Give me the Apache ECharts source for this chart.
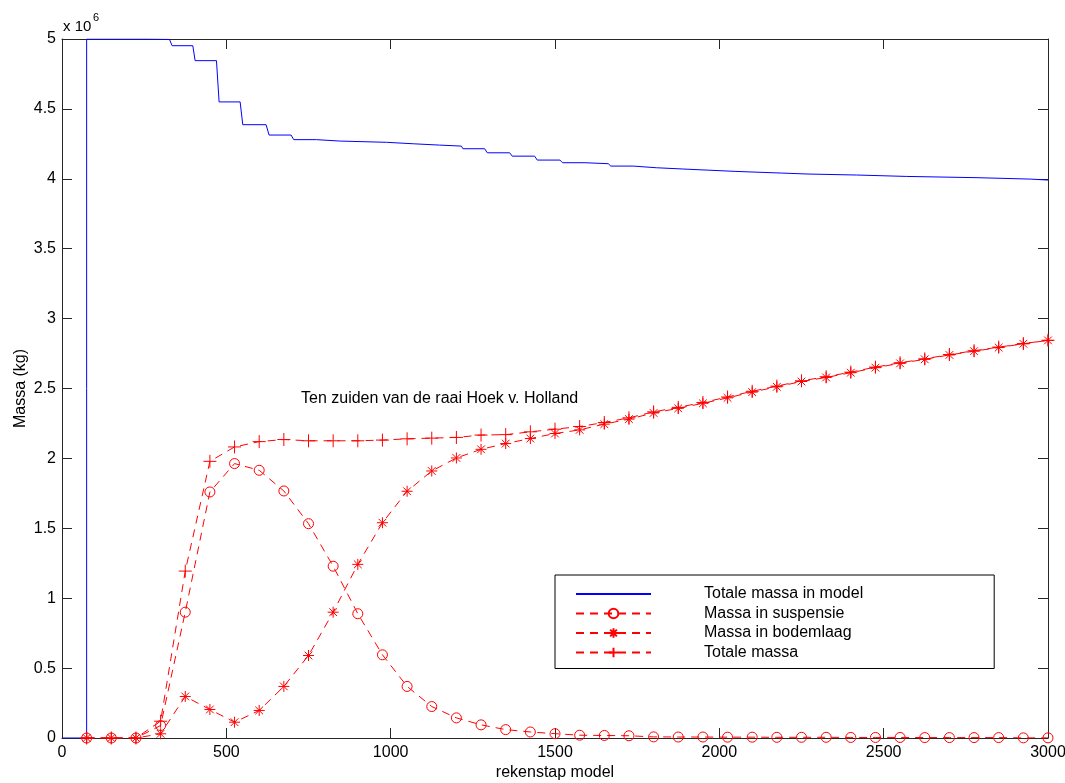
<!DOCTYPE html>
<html>
<head>
<meta charset="utf-8">
<script src="https://cdn.jsdelivr.net/npm/echarts@6/dist/echarts.min.js"></script>
<style>
  html, body { margin: 0; padding: 0; background: #fff; }
  #chart { width: 1065px; height: 783px; }
</style>
</head>
<body>
<div id="chart"></div>
<script>
// rekenstappen waarop de massa's zijn uitgezet
var stappen = [75, 150, 225, 300, 375, 450, 525, 600, 675, 750,
  825, 900, 975, 1050, 1125, 1200, 1275, 1350, 1425, 1500,
  1575, 1650, 1725, 1800, 1875, 1950, 2025, 2100, 2175, 2250,
  2325, 2400, 2475, 2550, 2625, 2700, 2775, 2850, 2925, 3000];

// massa's in 10^6 kg
var suspensie = [0, 0, 0, 0.089, 0.9, 1.76, 1.963, 1.915, 1.767, 1.533,
  1.229, 0.889, 0.595, 0.369, 0.225, 0.144, 0.094, 0.06, 0.043, 0.031,
  0.02, 0.018, 0.016, 0.008, 0.007, 0.007, 0.006, 0.006, 0.005, 0.005,
  0.005, 0.004, 0.004, 0.004, 0.003, 0.003, 0.003, 0.003, 0.001, 0.001];

var bodemlaag = [0, 0, 0, 0.03, 0.297, 0.204, 0.113, 0.197, 0.369, 0.59,
  0.9, 1.242, 1.54, 1.765, 1.91, 2.003, 2.065, 2.106, 2.142, 2.178,
  2.204, 2.245, 2.281, 2.325, 2.358, 2.394, 2.433, 2.474, 2.512, 2.55,
  2.579, 2.613, 2.649, 2.68, 2.709, 2.74, 2.767, 2.793, 2.82, 2.844];

var totaal = [0, 0, 0, 0.12, 1.194, 1.979, 2.082, 2.12, 2.135, 2.126,
  2.126, 2.126, 2.131, 2.14, 2.145, 2.15, 2.167, 2.17, 2.19, 2.209,
  2.228, 2.257, 2.29, 2.333, 2.365, 2.4, 2.439, 2.48, 2.517, 2.555,
  2.584, 2.617, 2.653, 2.684, 2.712, 2.743, 2.77, 2.796, 2.821, 2.845];

// totale massa in model (trapjes)
var modelX = [0, 75, 75, 257, 262, 327, 335, 398, 405, 470,
  478, 542, 550, 621, 630, 697, 705, 774, 780, 845,
  850, 987, 992, 1073, 1077, 1149, 1153, 1215, 1220, 1286,
  1294, 1362, 1370, 1438, 1446, 1515, 1523, 1591, 1594, 1662,
  1670, 1738, 1743, 1809, 1813, 1889, 1891, 1965, 1968, 2048,
  2050, 2190, 2193, 2270, 2272, 2418, 2421, 2570, 2573, 2784,
  2787, 2946, 2949, 3000];
var modelY = [0, 0, 5.0, 5.0, 4.997, 4.997, 4.952, 4.952, 4.845, 4.845,
  4.55, 4.55, 4.387, 4.387, 4.313, 4.313, 4.28, 4.28, 4.27, 4.27,
  4.261, 4.261, 4.25, 4.25, 4.241, 4.241, 4.234, 4.234, 4.215, 4.215,
  4.186, 4.186, 4.162, 4.162, 4.134, 4.134, 4.115, 4.115, 4.108, 4.108,
  4.091, 4.091, 4.079, 4.079, 4.07, 4.07, 4.062, 4.062, 4.053, 4.053,
  4.041, 4.041, 4.034, 4.034, 4.027, 4.027, 4.017, 4.017, 4.008, 4.008,
  3.998, 3.998, 3.991, 3.991];

function pairs(xs, ys) {
  var out = [];
  for (var i = 0; i < xs.length; i++) {
    out.push([xs[i], ys[i]]);
  }
  return out;
}

var font = 'Liberation Sans, Arial, sans-serif';
var rood = '#ff0000';
var blauw = '#0000ff';
var asKleur = '#262626';

var sterSymbool = 'path://M0,-5L0,5M-5,0L5,0M-3.5,-3.5L3.5,3.5M-3.5,3.5L3.5,-3.5';
var plusSymbool = 'path://M0,-6L0,6M-6,0L6,0';

function roodeSerie(naam, data, symbool, grootte) {
  return {
    name: naam,
    type: 'line',
    data: pairs(stappen, data),
    symbol: symbool,
    symbolSize: grootte,
    showAllSymbol: true,
    animation: false,
    lineStyle: { color: rood, width: 1, type: [8, 6] },
    itemStyle: {
      color: 'rgba(0,0,0,0)',
      borderColor: rood,
      borderWidth: 1
    },
    emphasis: { disabled: true }
  };
}

var chart = echarts.init(document.getElementById('chart'));

var option = {
  backgroundColor: '#fff',
  animation: false,
  textStyle: { fontFamily: font },
  grid: { left: 62, right: 17, top: 39, bottom: 45, outerBoundsMode: 'none', containLabel: false },
  xAxis: [
    {
      type: 'value',
      min: 0,
      max: 3000,
      interval: 500,
      name: 'rekenstap model',
      nameLocation: 'middle',
      nameGap: 27,
      nameMoveOverlap: false,
      nameTextStyle: { color: '#000', fontSize: 16, fontFamily: font },
      axisLine: { show: true, lineStyle: { color: asKleur, width: 1 } },
      axisTick: { show: true, inside: true, length: 10, lineStyle: { color: asKleur } },
      axisLabel: { color: '#000', fontSize: 16, fontFamily: font, margin: 7,
        formatter: function (v) { return String(v); } },
      splitLine: { show: false }
    },
    {
      type: 'value',
      position: 'top',
      min: 0,
      max: 3000,
      interval: 500,
      axisLine: { show: true, onZero: false, lineStyle: { color: asKleur, width: 1 } },
      axisTick: { show: true, inside: true, length: 10, lineStyle: { color: asKleur } },
      axisLabel: { show: false },
      splitLine: { show: false }
    }
  ],
  yAxis: [
    {
      type: 'value',
      min: 0,
      max: 5,
      interval: 0.5,
      name: 'Massa (kg)',
      nameLocation: 'middle',
      nameGap: 33,
      nameMoveOverlap: false,
      nameTextStyle: { color: '#000', fontSize: 16, fontFamily: font },
      axisLine: { show: true, lineStyle: { color: asKleur, width: 1 } },
      axisTick: { show: true, inside: true, length: 10, lineStyle: { color: asKleur } },
      axisLabel: { color: '#000', fontSize: 16, fontFamily: font, margin: 6,
        formatter: function (v) { return String(v); } },
      splitLine: { show: false }
    },
    {
      type: 'value',
      position: 'right',
      min: 0,
      max: 5,
      interval: 0.5,
      axisLine: { show: true, onZero: false, lineStyle: { color: asKleur, width: 1 } },
      axisTick: { show: true, inside: true, length: 10, lineStyle: { color: asKleur } },
      axisLabel: { show: false },
      splitLine: { show: false }
    }
  ],
  legend: {
    orient: 'vertical',
    left: 555,
    top: 575,
    padding: [11, 131, 8, 20],
    itemWidth: 75,
    itemHeight: 12,
    itemGap: 3.5,
    backgroundColor: '#fff',
    borderColor: '#000',
    borderWidth: 1,
    borderRadius: 0,
    selectedMode: false,
    textStyle: { color: '#000', fontSize: 16, fontFamily: font, padding: [0, 0, 0, 48] },
    data: [
      { name: 'Totale massa in model', itemStyle: { opacity: 0 } },
      'Massa in suspensie',
      'Massa in bodemlaag',
      'Totale massa'
    ]
  },
  graphic: [
    {
      type: 'text',
      left: 63,
      top: 19,
      style: { text: 'x 10', fontSize: 15, fontFamily: font, fill: '#000' }
    },
    {
      type: 'text',
      left: 93,
      top: 12,
      style: { text: '6', fontSize: 11, fontFamily: font, fill: '#000' }
    },
    {
      type: 'text',
      left: 301,
      top: 391,
      style: { text: 'Ten zuiden van de raai Hoek v. Holland', fontSize: 16, fontFamily: font, fill: '#000' }
    }
  ],
  series: [
    {
      name: 'Totale massa in model',
      type: 'line',
      data: pairs(modelX, modelY),
      symbol: 'none',
      animation: false,
      lineStyle: { color: blauw, width: 1 },
      itemStyle: { color: blauw },
      emphasis: { disabled: true }
    },
    roodeSerie('Massa in suspensie', suspensie, 'circle', 10),
    roodeSerie('Massa in bodemlaag', bodemlaag, sterSymbool, 11),
    roodeSerie('Totale massa', totaal, plusSymbool, 13)
  ]
};

chart.setOption(option);
</script>
</body>
</html>
